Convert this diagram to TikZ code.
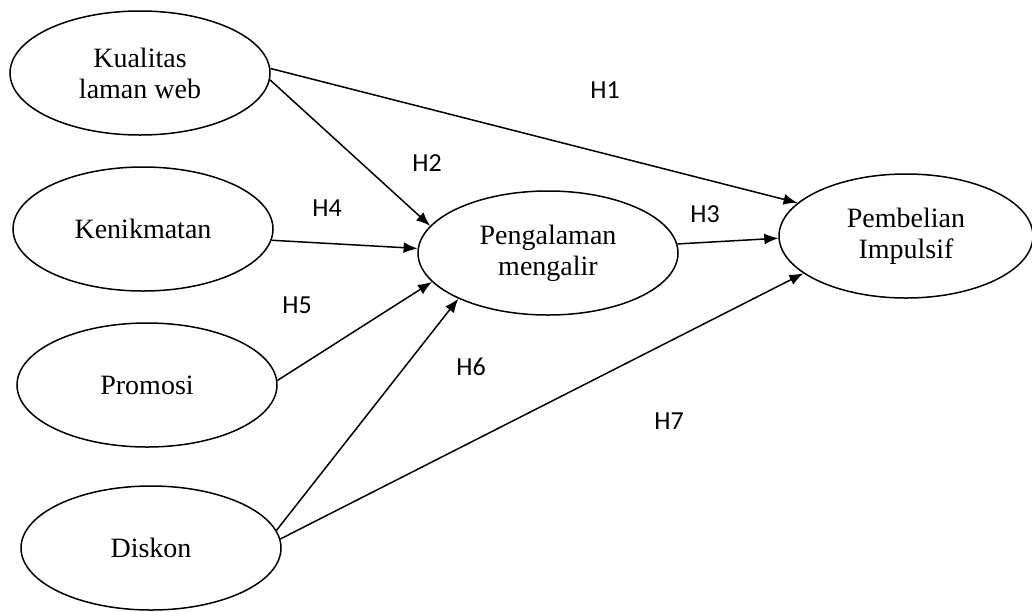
\documentclass[tikz,border=0pt]{standalone}
\usepackage{fontspec}
\setmainfont{Liberation Serif}
\newfontfamily\hfont{Carlito}
\usetikzlibrary{shapes.geometric,arrows.meta}

\begin{document}
\begin{tikzpicture}[
		x=1pt, y=-1pt,
		var/.style={ellipse, draw, line width=1.5pt, inner sep=0pt,
			minimum width=260pt, minimum height=124pt, align=center,
			font=\fontsize{28}{31}\selectfont},
		hyp/.style={font=\hfont\fontsize{26}{28}\selectfont},
		arrow/.style={-{Latex[length=14pt,width=11pt]}, line width=1.5pt}
	]
	\useasboundingbox (0,0) rectangle (1032,611);

	% Exogenous variables
	\node[var] (kualitas) at (140,73) {Kualitas\\laman web};
	\node[var] (kenikmatan) at (143,229) {Kenikmatan};
	\node[var] (promosi) at (147,385) {Promosi};
	\node[var] (diskon) at (151,548) {Diskon};

	% Mediator and outcome
	\node[var] (pengalaman) at (548,253) {Pengalaman\\mengalir};
	\node[var, minimum width=254pt] (pembelian) at (906,236) {Pembelian\\Impulsif};

	% Paths
	\draw[arrow] (kualitas.2) -- (pembelian.163);
	\draw[arrow] (kualitas.-3) -- (pengalaman.167);
	\draw[arrow] (kenikmatan.-5) -- (pengalaman.178);
	\draw[arrow] (promosi.2) -- (pengalaman.194);
	\draw[arrow] (diskon.8) -- (pengalaman.207);
	\draw[arrow] (diskon.4) -- (pembelian.200);
	\draw[arrow] (pengalaman.4) -- (pembelian.181);

	% Hypotheses
	\node[hyp] (h1) at (605,90) {H1};
	\node[hyp] (h2) at (427,163) {H2};
	\node[hyp] (h3) at (705,214) {H3};
	\node[hyp] (h4) at (327,208) {H4};
	\node[hyp] (h5) at (297,305) {H5};
	\node[hyp] (h6) at (471,367) {H6};
	\node[hyp] (h7) at (669,421) {H7};

\end{tikzpicture}
\end{document}
